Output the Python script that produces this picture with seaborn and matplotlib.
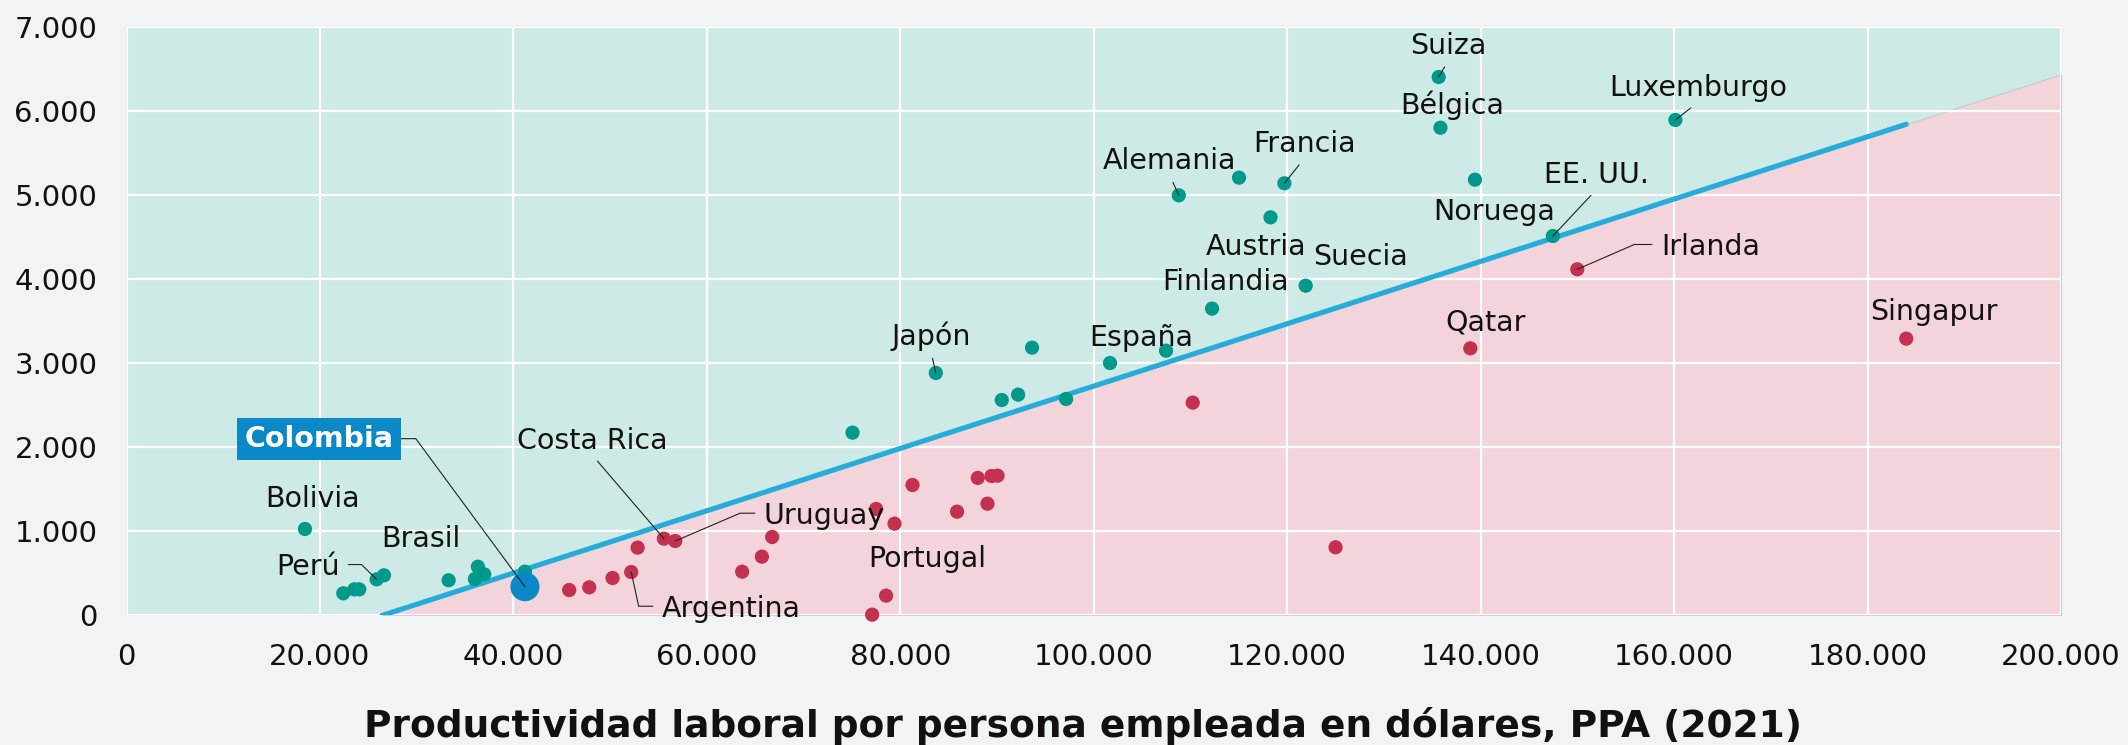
import matplotlib
matplotlib.use("Agg")
import matplotlib.pyplot as plt
from matplotlib.ticker import FuncFormatter, MultipleLocator
import seaborn as sns

# ----- datos -----
# paises por encima de la linea (verde)
prod_sobre = [18450, 22410, 23550, 24060, 25860, 26620, 33300, 36020, 36330, 36980,
              41190, 75060, 83670, 90490, 92180, 93620, 97140, 101680, 107470, 108790,
              112230, 115020, 118270, 119710, 121910, 135660, 135840, 139410, 147470, 160130]
valor_sobre = [1029, 264, 311, 311, 430, 478, 419, 434, 580, 490,
               521, 2175, 2885, 2563, 2627, 3186, 2575, 3003, 3150, 4998,
               3650, 5208, 4736, 5141, 3923, 6405, 5802, 5184, 4514, 5894]
# paises por debajo de la linea (rojo)
prod_bajo = [45770, 47840, 50250, 52180, 52840, 55560, 56730, 63650, 65690, 66750,
             77090, 77500, 78530, 79400, 81260, 85870, 88010, 89010, 89430, 90050,
             110230, 125000, 138930, 149990, 184000]
valor_bajo = [303, 335, 446, 517, 807, 914, 886, 521, 700, 934,
              10, 1267, 236, 1092, 1552, 1235, 1636, 1330, 1659, 1663,
              2532, 811, 3178, 4118, 3293]
colombia_prod = [41190]
colombia_valor = [343]

linea_x = [26400, 184000]
linea_y = [0, 5843]
frontera_x = [26400, 200000]
frontera_y = [0, 6437]

etiquetas = ["Bolivia", "Perú", "Brasil", "Costa Rica", "Uruguay", "Argentina", "Portugal",
             "Japón", "España", "Alemania", "Francia", "Suiza", "Bélgica", "Austria",
             "Suecia", "Finlandia", "Noruega", "EE. UU.", "Luxemburgo", "Irlanda",
             "Qatar", "Singapur"]
etiq_x = [18450, 25860, 26620, 55560, 56730, 52180, 79400,
          83670, 107470, 108790, 119710, 135660, 135840, 118270,
          121910, 112230, 139410, 147470, 160130, 149990,
          138930, 184000]
etiq_y = [1029, 430, 478, 914, 886, 517, 1092,
          2885, 3150, 4998, 5141, 6405, 5802, 4736,
          3923, 3650, 5184, 4514, 5894, 4118,
          3178, 3293]

# desplazamiento del texto (pixeles) y tipo de guia
desplaz = {
    "Bolivia": (8, 22), "Perú": (-69, 4), "Brasil": (37, 28), "Costa Rica": (-72, 90),
    "Uruguay": (149, 17), "Argentina": (100, -45), "Portugal": (33, -43),
    "Japón": (-5, 28), "España": (-25, 5), "Alemania": (-9, 26), "Francia": (20, 31),
    "Suiza": (10, 23), "Bélgica": (12, 14), "Austria": (-14, -38), "Suecia": (55, 21),
    "Finlandia": (14, 19), "Noruega": (19, -40), "EE. UU.": (44, 53),
    "Luxemburgo": (23, 24), "Irlanda": (133, 14), "Qatar": (15, 18), "Singapur": (28, 19),
}
guia_recta = ["Costa Rica", "Japón", "Alemania", "Francia", "Suiza", "EE. UU.", "Luxemburgo"]
guia_codo = {"Perú": ((1, 0.6), 135.7), "Uruguay": ((0, 0.6), 23.2),
             "Argentina": ((0, 0.6), -77.7), "Irlanda": ((0, 0.6), 23.5)}

VERDE = "#00998a"
ROJO = "#c4304f"
AZUL_LINEA = "#25acd9"
AZUL_COL = "#0a88c7"
FONDO = "#f1f3f4"

sns.set_theme(style="whitegrid")
plt.rcParams["font.family"] = ["DejaVu Sans"]

fig = plt.figure(figsize=(21.28, 7.45), dpi=100, facecolor=FONDO)
ax = fig.add_axes([0.05945, 0.17383, 0.90907, 0.78993])
ax.set_facecolor("#cdeae7")

ax.fill_between(frontera_x, 0, frontera_y, color="#f2d4da", edgecolor="#c9c9c9", lw=0.8, zorder=0.4)
sns.lineplot(x=linea_x, y=linea_y, ax=ax, color=AZUL_LINEA, lw=3.7, zorder=2,
             solid_capstyle="round")

sns.scatterplot(x=prod_sobre, y=valor_sobre, ax=ax, color=VERDE, s=105, edgecolor="none",
                zorder=3, clip_on=False)
sns.scatterplot(x=prod_bajo, y=valor_bajo, ax=ax, color=ROJO, s=105, edgecolor="none",
                zorder=3, clip_on=False)
sns.scatterplot(x=colombia_prod, y=colombia_valor, ax=ax, color=AZUL_COL, s=440,
                edgecolor="none", zorder=4, clip_on=False)

for nombre, px, py in zip(etiquetas, etiq_x, etiq_y):
    dx, dy = desplaz[nombre]
    flecha = None
    if nombre in guia_recta:
        flecha = dict(arrowstyle="-", color="#222222", lw=0.8, shrinkA=3, shrinkB=0,
                      relpos=(0.5, 0))
    elif nombre in guia_codo:
        rel, angB = guia_codo[nombre]
        flecha = dict(arrowstyle="-", color="#222222", lw=0.8, shrinkA=4, shrinkB=0,
                      relpos=rel, connectionstyle=f"angle,angleA=0,angleB={angB},rad=0")
    ax.annotate(nombre, xy=(px, py), xytext=(dx, dy), textcoords="offset pixels",
                ha="center", va="baseline", fontsize=20.5, color="#111111",
                arrowprops=flecha, zorder=5)

ax.annotate("Colombia", xy=(colombia_prod[0], colombia_valor[0]), xytext=(-206, 148),
            textcoords="offset pixels", ha="center", va="center", fontsize=20.5,
            fontweight="bold", color="white",
            bbox=dict(boxstyle="square,pad=0.25", fc=AZUL_COL, ec="none"),
            arrowprops=dict(arrowstyle="-", color="#222222", lw=0.8, shrinkA=0, shrinkB=0,
                            relpos=(1, 0.5),
                            connectionstyle="angle,angleA=0,angleB=126.4,rad=0"),
            zorder=5)

ax.set_xlim(0, 200000)
ax.set_ylim(0, 7000)
ax.xaxis.set_major_locator(MultipleLocator(20000))
ax.yaxis.set_major_locator(MultipleLocator(1000))
miles = FuncFormatter(lambda v, p: f"{v:,.0f}".replace(",", "."))
ax.xaxis.set_major_formatter(miles)
ax.yaxis.set_major_formatter(miles)
ax.set_axisbelow("line")
ax.grid(True, color="white", lw=1.6)
for s in ax.spines.values():
    s.set_visible(False)
ax.tick_params(axis="both", length=0, labelsize=21, labelcolor="#111111")
ax.tick_params(axis="y", pad=21)
ax.tick_params(axis="x", pad=20)

ax.set_xlabel("Productividad laboral por persona empleada en dólares, PPA (2021)",
              fontsize=27, fontweight="bold", color="#111111")
ax.xaxis.set_label_coords(0.4944, -0.188)
ax.xaxis.label.set_va("center")
ax.set_ylabel("")

fig.savefig("out.png", dpi=100, facecolor=FONDO)
